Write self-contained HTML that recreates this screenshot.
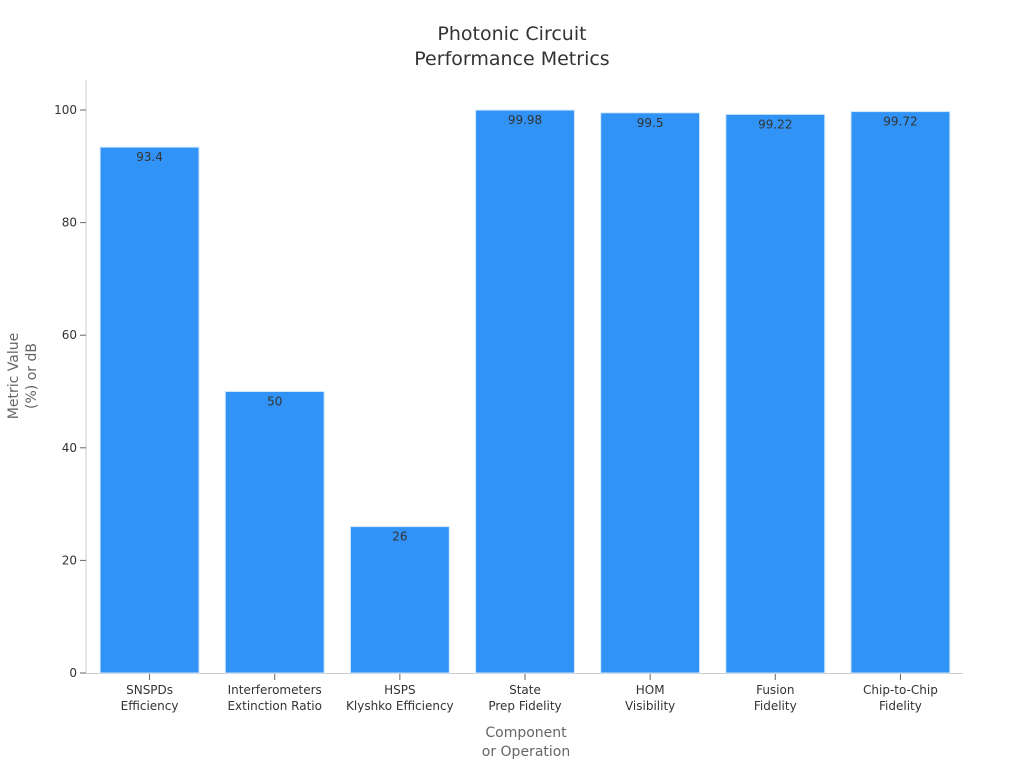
<!DOCTYPE html>
<html><head><meta charset="utf-8"><style>
body{margin:0;background:#fff;font-family:"DejaVu Sans","Liberation Sans",sans-serif;}
svg text{font-family:"DejaVu Sans","Liberation Sans",sans-serif;}
</style></head><body>
<svg id="chart" width="1024" height="768">
<text x="512" y="40" text-anchor="middle" font-size="19" fill="#333"><tspan x="512">Photonic Circuit</tspan><tspan x="512" dy="25">Performance Metrics</tspan></text>
<text transform="translate(18,376) rotate(-90)" text-anchor="middle" font-size="14" fill="#666"><tspan x="0">Metric Value</tspan><tspan x="0" dy="18">(%) or dB</tspan></text>
<text x="526" y="737" text-anchor="middle" font-size="14" fill="#666"><tspan x="526">Component</tspan><tspan x="526" dy="19">or Operation</tspan></text>
<g id="plot"></g>
</svg>
<script>
const categories=[["SNSPDs","Efficiency"],["Interferometers","Extinction Ratio"],["HSPS","Klyshko Efficiency"],["State","Prep Fidelity"],["HOM","Visibility"],["Fusion","Fidelity"],["Chip-to-Chip","Fidelity"]];
const values=[93.4,50,26,99.98,99.5,99.22,99.72];
const labels=["93.4","50","26","99.98","99.5","99.22","99.72"];
const yTicks=[0,20,40,60,80,100];
const NS="http://www.w3.org/2000/svg";
const g=document.getElementById('plot');
const x0=87,x1=963,y0=673,yTop=110;
const band=(x1-x0)/categories.length,bw=band*0.79;
const y=v=>y0-(v/100)*(y0-yTop);
const xc=i=>x0+band*(i+0.5);
function mk(t,a){const e=document.createElementNS(NS,t);for(const k in a)e.setAttribute(k,a[k]);g.appendChild(e);return e;}
let ax=mk('line',{x1:86,y1:80,x2:86,y2:673.5,stroke:'#ccc'});


let bx=mk('line',{x1:86,y1:673.5,x2:963,y2:673.5,stroke:'#ccc'});


yTicks.forEach(t=>{
 const tk=mk('line',{x1:80,x2:86,y1:y(t),y2:y(t),stroke:'#666'});
 
 
 const tx=mk('text',{x:77,y:y(t)+4,'text-anchor':'end','font-size':12,fill:'#333'});
 tx.textContent=t;
 
 
});
values.forEach((v,i)=>{
 const r=mk('rect',{x:xc(i)-bw/2,y:y(v),width:bw,height:y0-y(v),fill:'#3193f5',stroke:'#d0e6fb','stroke-width':1});
 
 
 const l=mk('text',{x:xc(i),y:y(v)+14,'text-anchor':'middle','font-size':12,fill:'#333'});
 l.textContent=labels[i];
 
 
 const tk=mk('line',{x1:xc(i),x2:xc(i),y1:674,y2:680,stroke:'#666'});
 
 
 const tx=mk('text',{x:xc(i),y:694,'text-anchor':'middle','font-size':12,fill:'#333'});
 
 
 categories[i].forEach((s,j)=>{const ts=document.createElementNS(NS,'tspan');ts.setAttribute('x',xc(i));ts.setAttribute('dy',j?16:0);ts.textContent=s;tx.appendChild(ts);});
});
</script>
</body></html>
